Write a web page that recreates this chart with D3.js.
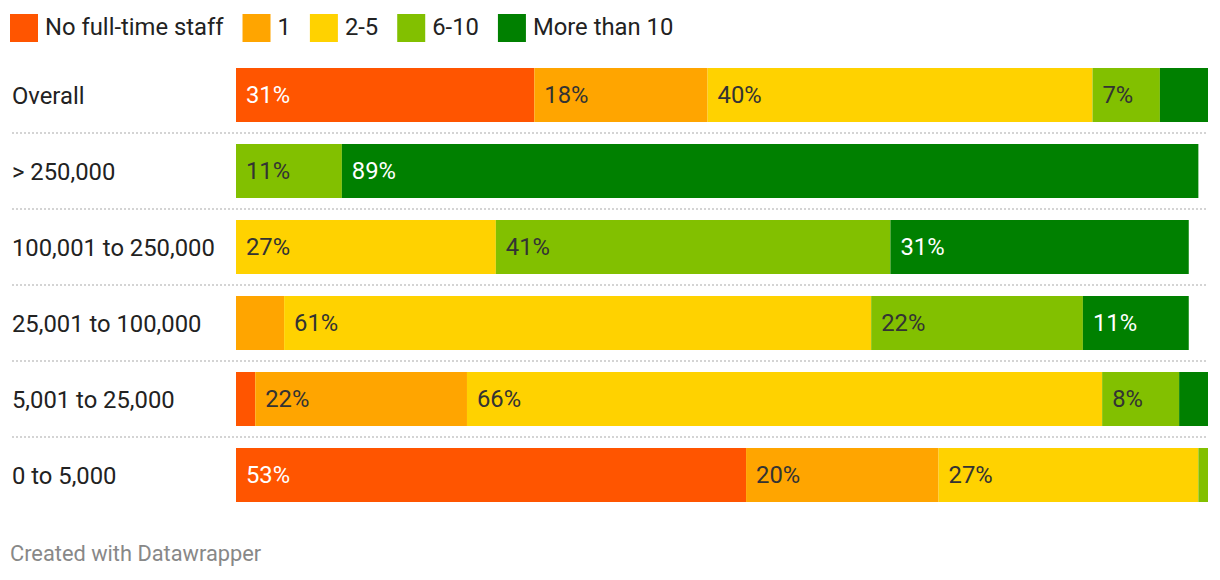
<!DOCTYPE html>
<html>
<head>
<meta charset="utf-8">
<script src="https://cdn.jsdelivr.net/npm/d3@7"></script>
<style>
  html, body { margin: 0; padding: 0; background: #fff; }
  svg { display: block; font-family: Roboto, "Noto Sans", sans-serif; }
</style>
</head>
<body>
<svg id="chart" width="1220" height="580"></svg>
<script>
// ---- data ----
const categories = ["Overall", "> 250,000", "100,001 to 250,000", "25,001 to 100,000", "5,001 to 25,000", "0 to 5,000"];
const seriesNames = ["No full-time staff", "1", "2-5", "6-10", "More than 10"];
const noStaff  = [31, 0, 0, 0, 2, 53];
const oneStaff = [18, 0, 0, 5, 22, 20];
const twoFive  = [40, 0, 27, 61, 66, 27];
const sixTen   = [7, 11, 41, 22, 8, 1];
const moreTen  = [5, 89, 31, 11, 3, 0];
const colors = ["#ff5500", "#ffa500", "#ffd200", "#82c000", "#008000"];
const labelColors = ["#ffffff", "#333333", "#333333", "#333333", "#ffffff"];

const seriesValues = [noStaff, oneStaff, twoFive, sixTen, moreTen];
const rows = categories.map((c, i) => {
  const r = { category: c };
  seriesNames.forEach((s, j) => { r[s] = seriesValues[j][i]; });
  return r;
});

const svg = d3.select("#chart");
const fontSize = 23.8;

const stacked = d3.stack().keys(seriesNames)(rows);
const maxSum = d3.max(rows, r => d3.sum(seriesNames, s => r[s]));

const x = d3.scaleLinear().domain([0, maxSum]).range([236, 1208]);
const y = d3.scaleBand().domain(categories).range([68, 502]).paddingInner(22 / 76).paddingOuter(0);

// ---- legend ----
const legend = svg.append("g").attr("class", "legend");
let lx = 10;
seriesNames.forEach((s, i) => {
  const g = legend.append("g");
  g.append("rect").attr("x", lx).attr("y", 14).attr("width", 28).attr("height", 28).attr("fill", colors[i]);
  const t = g.append("text").attr("x", lx + 35).attr("y", 26.5).attr("dy", "0.355em")
    .attr("font-size", fontSize).attr("fill", "#222").text(s);
  lx += 35 + t.node().getComputedTextLength() + 19;
});

// ---- separators ----
const step = y.step();
svg.append("g").selectAll("line")
  .data(categories.slice(0, -1))
  .join("line")
  .attr("x1", 12).attr("x2", 1208)
  .attr("y1", d => y(d) + y.bandwidth() + (step - y.bandwidth()) / 2)
  .attr("y2", d => y(d) + y.bandwidth() + (step - y.bandwidth()) / 2)
  .attr("stroke", "#d4d4d4").attr("stroke-width", 2).attr("stroke-dasharray", "2,2");

// ---- row labels ----
svg.append("g").selectAll("text")
  .data(categories)
  .join("text")
  .attr("x", 12)
  .attr("y", d => y(d) + y.bandwidth() / 2 + 1)
  .attr("dy", "0.355em")
  .attr("font-size", fontSize)
  .attr("fill", "#222")
  .text(d => d);

// ---- bars ----
const layers = svg.append("g").selectAll("g.layer")
  .data(stacked)
  .join("g").attr("class", "layer");

layers.each(function(layer, li) {
  const g = d3.select(this);
  layer.forEach(seg => {
    const w = x(seg[1]) - x(seg[0]);
    if (w <= 0) return;
    const cat = seg.data.category;
    g.append("rect")
      .attr("x", x(seg[0])).attr("y", y(cat))
      .attr("width", w).attr("height", y.bandwidth())
      .attr("fill", colors[li]);
    const val = seg[1] - seg[0];
    const t = g.append("text")
      .attr("x", x(seg[0]) + 10)
      .attr("y", y(cat) + y.bandwidth() / 2)
      .attr("dy", "0.355em")
      .attr("font-size", fontSize)
      .attr("fill", labelColors[li])
      .text(val + "%");
    if (t.node().getComputedTextLength() + 20 > w) t.remove();
  });
});

// ---- footer ----
svg.append("text")
  .attr("x", 10).attr("y", 561)
  .attr("font-size", 21.8)
  .attr("fill", "#888")
  .text("Created with Datawrapper");
</script>
</body>
</html>
